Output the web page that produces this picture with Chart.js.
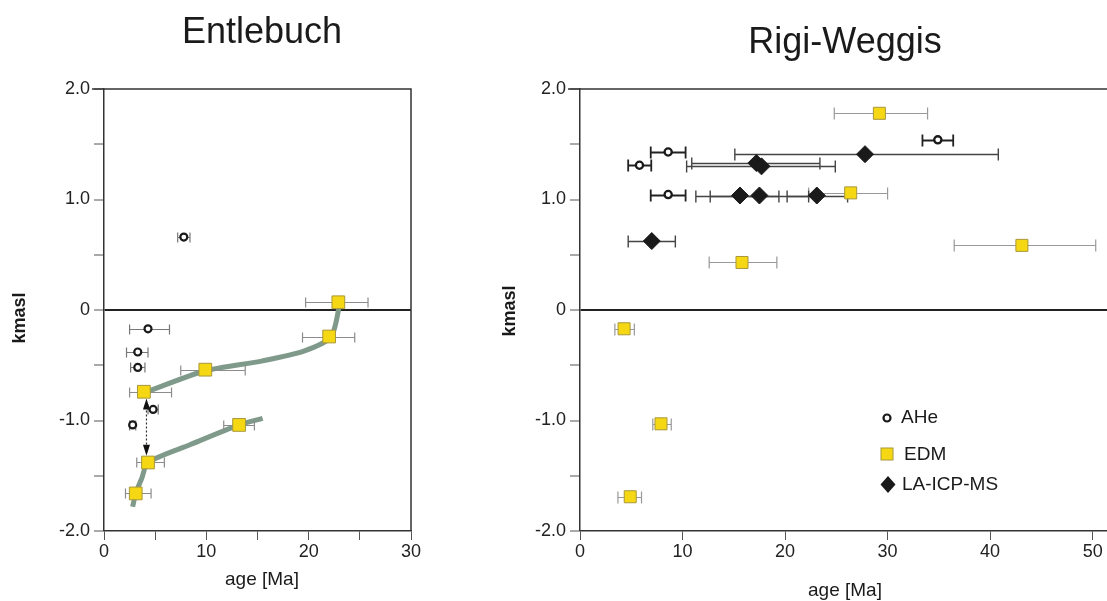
<!DOCTYPE html>
<html><head><meta charset="utf-8">
<script src="https://cdn.jsdelivr.net/npm/chart.js@4.4.1/dist/chart.umd.min.js"></script>
<style>
html,body{margin:0;padding:0;background:#fff;width:1107px;height:601px;overflow:hidden}
#c1{position:absolute;left:0;top:0}
#c2{position:absolute;left:470px;top:0}
</style></head><body>
<canvas id="c1" width="460" height="601"></canvas>
<canvas id="c2" width="637" height="601"></canvas>
<script>
// ---------- Entlebuch data ----------
const entAheX  = [7.8, 4.3, 3.3, 3.3, 4.8, 2.8];
const entAheY  = [0.66, -0.17, -0.38, -0.52, -0.90, -1.04];
const entAheLo = [7.2, 2.5, 2.2, 2.6, 4.3, 2.5];
const entAheHi = [8.4, 6.4, 4.3, 4.0, 5.3, 3.1];

const entEdmX  = [22.9, 22.0, 9.9, 3.9, 13.2, 4.3, 3.1];
const entEdmY  = [0.07, -0.24, -0.54, -0.74, -1.04, -1.38, -1.66];
const entEdmLo = [19.7, 19.4, 7.5, 2.5, 11.7, 3.2, 2.1];
const entEdmHi = [25.8, 24.5, 13.8, 6.6, 14.7, 5.9, 4.6];

const entTrend1X = [23.1, 22.2, 19.6, 15.5, 9.9, 3.9];
const entTrend1Y = [0.09, -0.24, -0.37, -0.46, -0.55, -0.75];
const entTrend2X = [15.5, 13.2, 8.4, 4.3, 3.7, 3.1, 2.8];
const entTrend2Y = [-0.98, -1.04, -1.22, -1.38, -1.52, -1.66, -1.78];

const entArrowX = [4.15, 4.15];
const entArrowY = [-0.80, -1.32];

const entXTicks = [0, 10, 20, 30];

// ---------- Rigi-Weggis data ----------
const rigAheX  = [34.9, 8.6, 5.8, 8.6];
const rigAheY  = [1.54, 1.43, 1.31, 1.045];
const rigAheLo = [33.4, 6.9, 4.7, 6.9];
const rigAheHi = [36.4, 10.3, 6.95, 10.3];

const rigEdmX  = [29.2, 26.4, 43.1, 15.8, 4.3, 7.9, 4.9];
const rigEdmY  = [1.78, 1.06, 0.585, 0.43, -0.17, -1.03, -1.69];
const rigEdmLo = [24.8, 22.3, 36.5, 12.6, 3.4, 7.1, 3.7];
const rigEdmHi = [33.9, 30.0, 50.3, 19.2, 5.3, 8.9, 6.0];

const rigLaX  = [27.8, 17.2, 17.7, 15.6, 17.5, 23.1, 7.0];
const rigLaY  = [1.41, 1.33, 1.30, 1.036, 1.036, 1.036, 0.624];
const rigLaLo = [15.1, 10.9, 10.4, 11.3, 12.7, 20.2, 4.7];
const rigLaHi = [40.8, 23.4, 24.9, 19.4, 22.3, 26.1, 9.3];

const rigXTicks = [0, 10, 20, 30, 40, 50];
const yTickLabels = [-2, -1, 0, 1, 2];
const legendLabels = ['AHe', 'EDM', 'LA-ICP-MS'];

// ---------- helpers ----------
const FONT = "'Liberation Sans', Arial, Helvetica, sans-serif";
const pts = (xs, ys) => xs.map((v, i) => ({x: v, y: ys[i]}));
const EDM_FILL = '#f5d813', EDM_EDGE = '#a8983a';
const TREND = '#7f9a8a';

function drawErr(chart, xs, ys, lo, hi, color, lw, cap) {
  const {ctx, scales: {x, y}} = chart;
  ctx.save();
  ctx.strokeStyle = color; ctx.lineWidth = lw;
  for (let i = 0; i < xs.length; i++) {
    const py = Math.round(y.getPixelForValue(ys[i])) + 0.5;
    const x1 = x.getPixelForValue(lo[i]), x2 = x.getPixelForValue(hi[i]);
    ctx.beginPath();
    ctx.moveTo(x1, py); ctx.lineTo(x2, py);
    ctx.moveTo(x1, py - cap); ctx.lineTo(x1, py + cap);
    ctx.moveTo(x2, py - cap); ctx.lineTo(x2, py + cap);
    ctx.stroke();
  }
  ctx.restore();
}

function yLabel(v) {
  if (v === 0) return '0';
  return yTickLabels.includes(v) ? v.toFixed(1) : '';
}

function makeScales(xmin, xmax, xstep, xTicks, yWidth) {
  return {
    x: {
      type: 'linear', min: xmin, max: xmax,
      afterFit: s => { s.height = 70; s.paddingLeft = 0; s.paddingRight = 0; },
      border: {color: '#333', width: 1.5},
      grid: {drawOnChartArea: false, tickLength: 9, tickColor: '#555', tickWidth: 1},
      ticks: {stepSize: xstep, includeBounds: false, autoSkip: false, maxRotation: 0, padding: 1,
        color: '#222', font: {family: FONT, size: 18},
        callback: v => xTicks.includes(v) ? String(v) : ''}
    },
    y: {
      type: 'linear', min: -2, max: 2,
      afterFit: s => { s.width = yWidth; s.paddingTop = 0; s.paddingBottom = 0; },
      border: {color: '#333', width: 1.5},
      grid: {
        drawOnChartArea: true,
        color: c => (c.tick && c.tick.value === 0) ? '#222' : 'rgba(0,0,0,0)',
        lineWidth: c => (c.tick && c.tick.value === 0) ? 2 : 0,
        tickColor: '#555', tickWidth: 1, tickLength: 10
      },
      ticks: {stepSize: 0.5, autoSkip: false, padding: 4, color: '#222',
        font: {family: FONT, size: 18}, callback: v => yLabel(v)}
    }
  };
}

function drawTexts(ctx, title, tx, ty, xTitleX, xTitleY, yTitleX, yTitleY) {
  ctx.save();
  ctx.fillStyle = '#1a1a1a';
  ctx.font = `36px ${FONT}`;
  ctx.textAlign = 'center'; ctx.textBaseline = 'alphabetic';
  ctx.fillText(title, tx, ty);
  ctx.font = `19px ${FONT}`;
  ctx.textBaseline = 'middle';
  ctx.fillText('age [Ma]', xTitleX, xTitleY);
  ctx.translate(yTitleX, yTitleY);
  ctx.rotate(-Math.PI / 2);
  ctx.font = `bold 18px ${FONT}`;
  ctx.fillText('kmasl', 0, 0);
  ctx.restore();
}

// ---------- Entlebuch chart ----------
const plugin1 = {
  id: 'extras1',
  beforeDatasetDraw(chart, args) {
    if (chart.data.datasets[args.index].errHere) {
      drawErr(chart, entEdmX, entEdmY, entEdmLo, entEdmHi, '#8c8c8c', 1.2, 5);
      drawErr(chart, entAheX, entAheY, entAheLo, entAheHi, '#777', 1.2, 5);
      // dotted arrow
      const {ctx, scales: {x, y}} = chart;
      const px = x.getPixelForValue(entArrowX[0]);
      const yTop = y.getPixelForValue(entArrowY[0]);
      const yBot = y.getPixelForValue(entArrowY[1]);
      ctx.save();
      ctx.strokeStyle = '#333'; ctx.lineWidth = 1.2; ctx.setLineDash([2, 2]);
      ctx.beginPath(); ctx.moveTo(px, yTop + 8); ctx.lineTo(px, yBot - 8); ctx.stroke();
      ctx.setLineDash([]);
      ctx.fillStyle = '#111';
      ctx.beginPath(); ctx.moveTo(px, yTop); ctx.lineTo(px - 3.5, yTop + 11); ctx.lineTo(px + 3.5, yTop + 11); ctx.closePath(); ctx.fill();
      ctx.beginPath(); ctx.moveTo(px, yBot); ctx.lineTo(px - 3.5, yBot - 11); ctx.lineTo(px + 3.5, yBot - 11); ctx.closePath(); ctx.fill();
      ctx.restore();
    }
  },
  afterDraw(chart) {
    const {ctx, chartArea: a} = chart;
    ctx.save();
    ctx.strokeStyle = '#333'; ctx.lineWidth = 1.5;
    ctx.beginPath();
    ctx.moveTo(a.left - 12, a.top); ctx.lineTo(a.right, a.top); ctx.lineTo(a.right, a.bottom);
    ctx.stroke();
    ctx.restore();
    drawTexts(ctx, 'Entlebuch', 262, 43, 262, 580, 20, 318);
  }
};

new Chart(document.getElementById('c1'), {
  type: 'scatter',
  data: {
    datasets: [
      {label: 'AHe', data: pts(entAheX, entAheY), pointStyle: 'circle', pointRadius: 3.5,
        pointBorderWidth: 2.2, pointBackgroundColor: '#fff', pointBorderColor: '#1a1a1a', order: 0},
      {label: 'EDM', data: pts(entEdmX, entEdmY), pointStyle: 'rect', pointRadius: 9,
        pointBorderWidth: 1, pointBackgroundColor: EDM_FILL, pointBorderColor: EDM_EDGE, order: 1, errHere: true},
      {type: 'line', label: 'trend1', data: pts(entTrend1X, entTrend1Y), showLine: true, borderColor: TREND,
        borderWidth: 5, pointRadius: 0, tension: 0.25, fill: false, order: 5},
      {type: 'line', label: 'trend2', data: pts(entTrend2X, entTrend2Y), showLine: true, borderColor: TREND,
        borderWidth: 5, pointRadius: 0, tension: 0.25, fill: false, order: 5}
    ]
  },
  options: {
    responsive: false, animation: false, events: [],
    layout: {autoPadding: false, padding: {top: 89, right: 49, left: 0, bottom: 0}},
    plugins: {legend: {display: false}, tooltip: {enabled: false}, title: {display: false}},
    scales: makeScales(0, 30, 5, entXTicks, 104)
  },
  plugins: [plugin1]
});

// ---------- Rigi-Weggis chart ----------
const plugin2 = {
  id: 'extras2',
  beforeDatasetDraw(chart, args) {
    if (chart.data.datasets[args.index].errHere) {
      drawErr(chart, rigEdmX, rigEdmY, rigEdmLo, rigEdmHi, '#999', 1.2, 6);
      drawErr(chart, rigLaX, rigLaY, rigLaLo, rigLaHi, '#444', 1.4, 6);
      drawErr(chart, rigAheX, rigAheY, rigAheLo, rigAheHi, '#222', 1.8, 6);
    }
  },
  afterDraw(chart) {
    const {ctx, chartArea: a} = chart;
    ctx.save();
    ctx.strokeStyle = '#333'; ctx.lineWidth = 1.5;
    ctx.beginPath(); ctx.moveTo(a.left - 12, a.top); ctx.lineTo(chart.width, a.top); ctx.stroke();
    // legend
    const lx = a.left + 307;
    ctx.fillStyle = '#fff'; ctx.strokeStyle = '#1a1a1a'; ctx.lineWidth = 2.2;
    ctx.beginPath(); ctx.arc(lx, 418, 3.5, 0, Math.PI * 2); ctx.fill(); ctx.stroke();
    ctx.fillStyle = EDM_FILL; ctx.strokeStyle = EDM_EDGE; ctx.lineWidth = 1;
    ctx.fillRect(lx - 6, 448, 12, 12); ctx.strokeRect(lx - 6, 448, 12, 12);
    ctx.fillStyle = '#1a1a1a';
    ctx.beginPath(); ctx.moveTo(lx + 1, 476); ctx.lineTo(lx + 8.5, 484.5); ctx.lineTo(lx + 1, 493); ctx.lineTo(lx - 6.5, 484.5); ctx.closePath(); ctx.fill();
    ctx.font = `19px ${FONT}`; ctx.textAlign = 'left'; ctx.textBaseline = 'middle';
    ctx.fillText(legendLabels[0], lx + 14, 418);
    ctx.fillText(legendLabels[1], lx + 17, 455);
    ctx.fillText(legendLabels[2], lx + 15, 485);
    ctx.restore();
    drawTexts(ctx, 'Rigi-Weggis', 375, 53, 375, 591, 40, 311);
  }
};

new Chart(document.getElementById('c2'), {
  type: 'scatter',
  data: {
    datasets: [
      {label: 'AHe', data: pts(rigAheX, rigAheY), pointStyle: 'circle', pointRadius: 3.6,
        pointBorderWidth: 2.3, pointBackgroundColor: '#fff', pointBorderColor: '#1a1a1a', order: 0},
      {label: 'LA-ICP-MS', data: pts(rigLaX, rigLaY), pointStyle: 'rectRot', pointRadius: 8.5,
        pointBorderWidth: 1, pointBackgroundColor: '#1a1a1a', pointBorderColor: '#1a1a1a', order: 1},
      {label: 'EDM', data: pts(rigEdmX, rigEdmY), pointStyle: 'rect', pointRadius: 8.5,
        pointBorderWidth: 1, pointBackgroundColor: EDM_FILL, pointBorderColor: EDM_EDGE, order: 2, errHere: true}
    ]
  },
  options: {
    responsive: false, animation: false, events: [],
    layout: {autoPadding: false, padding: {top: 89, right: 0, left: 0, bottom: 0}},
    plugins: {legend: {display: false}, tooltip: {enabled: false}, title: {display: false}},
    scales: makeScales(0, 51.4, 10, rigXTicks, 110)
  },
  plugins: [plugin2]
});
</script>
</body></html>
